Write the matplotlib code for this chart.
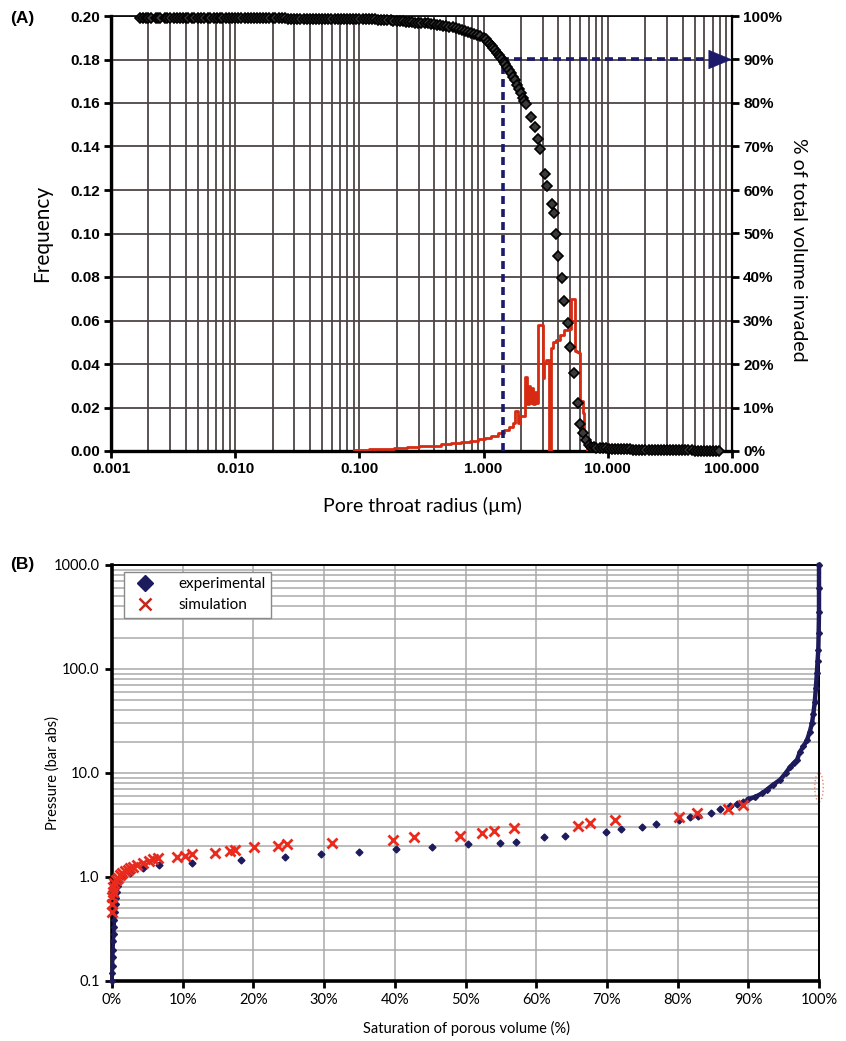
"""Pore throat size distribution (A) and capillary pressure curve (B)."""

import matplotlib
matplotlib.use("Agg")
import matplotlib.pyplot as plt
from matplotlib.lines import Line2D
from matplotlib.patches import Ellipse
from matplotlib.ticker import FixedLocator, FuncFormatter, LogLocator, NullFormatter

# ---------------- panel A data ----------------
# frequency histogram (left axis), drawn as steps
freq_r = [0.09, 0.12, 0.15, 0.19, 0.24, 0.30, 0.37, 0.45, 0.55, 0.66, 0.78, 0.90,
          1.02, 1.15, 1.30, 1.45, 1.60, 1.74, 1.80, 1.88, 1.95, 2.14, 2.25, 2.30,
          2.38, 2.44, 2.52, 2.60, 2.66, 2.75, 3.02, 3.08, 3.18, 3.36, 3.46, 3.62,
          3.85, 4.10, 4.45, 4.75, 5.08, 5.45, 5.60, 5.85, 6.00, 6.28, 6.45, 6.75]
freq_v = [0.0004, 0.0008, 0.0011, 0.0014, 0.0017, 0.0021, 0.0025, 0.0030, 0.0035, 0.0042,
          0.0048, 0.0055, 0.0062, 0.0071, 0.0082, 0.0095, 0.0110, 0.0130, 0.0185, 0.0130,
          0.0160, 0.0340, 0.0215, 0.0300, 0.0220, 0.0290, 0.0215, 0.0270, 0.0220, 0.0580,
          0.0335, 0.0405, 0.0420, 0.0000, 0.0475, 0.0500, 0.0510, 0.0535, 0.0555, 0.0560,
          0.0700, 0.0460, 0.0455, 0.0450, 0.0230, 0.0175, 0.0050, 0.0000]

# cumulative volume invaded (right axis), one decade of the plateau per list
plat1_r = [0.0017, 0.0018, 0.0019, 0.0020, 0.0021, 0.0023, 0.0024, 0.0025, 0.0027, 0.0028,
           0.0030, 0.0032, 0.0034, 0.0036, 0.0038, 0.0040, 0.0042, 0.0045, 0.0047, 0.0050,
           0.0053, 0.0056, 0.0060, 0.0063, 0.0067, 0.0071, 0.0075, 0.0079, 0.0084, 0.0089,
           0.0094]
plat1_pct = [99.6, 99.6, 99.6, 99.6, 99.6, 99.6, 99.6, 99.6, 99.6, 99.6,
             99.6, 99.6, 99.6, 99.6, 99.6, 99.6, 99.6, 99.6, 99.6, 99.6,
             99.6, 99.6, 99.6, 99.6, 99.6, 99.6, 99.6, 99.6, 99.6, 99.6,
             99.6]
plat2_r = [0.0100, 0.0106, 0.0112, 0.0119, 0.0126, 0.0133, 0.0141, 0.0150, 0.0158, 0.0168,
           0.0178, 0.0188, 0.0200, 0.0211, 0.0224, 0.0237, 0.0251, 0.0266, 0.0282, 0.0299,
           0.0316, 0.0335, 0.0355, 0.0376, 0.0398, 0.0422, 0.0447, 0.0473, 0.0501, 0.0531,
           0.0562, 0.0596, 0.0631, 0.0668, 0.0708, 0.0750, 0.0794, 0.0841, 0.0891, 0.0944]
plat2_pct = [99.6, 99.6, 99.6, 99.6, 99.6, 99.6, 99.6, 99.5, 99.5, 99.5,
             99.5, 99.5, 99.5, 99.5, 99.5, 99.5, 99.5, 99.4, 99.4, 99.4,
             99.4, 99.4, 99.4, 99.4, 99.4, 99.4, 99.4, 99.4, 99.4, 99.4,
             99.3, 99.3, 99.3, 99.3, 99.3, 99.3, 99.3, 99.3, 99.3, 99.3]
plat3_r = [0.100, 0.106, 0.112, 0.119, 0.126, 0.133, 0.141, 0.150, 0.158, 0.168,
           0.178, 0.188, 0.200, 0.211, 0.224, 0.237, 0.251, 0.266, 0.282, 0.299,
           0.316, 0.335, 0.355, 0.376, 0.398, 0.422, 0.447, 0.473, 0.501, 0.531,
           0.562, 0.596, 0.631, 0.668, 0.708, 0.750, 0.794, 0.841, 0.891, 0.944]
plat3_pct = [99.3, 99.3, 99.3, 99.2, 99.2, 99.2, 99.1, 99.1, 99.1, 99.0,
             99.0, 98.9, 98.9, 98.8, 98.8, 98.7, 98.7, 98.6, 98.5, 98.5,
             98.4, 98.3, 98.3, 98.2, 98.1, 98.0, 97.9, 97.8, 97.7, 97.5,
             97.4, 97.2, 97.0, 96.8, 96.6, 96.4, 96.2, 95.9, 95.6, 95.3]
drop_r = [1.00, 1.04, 1.08, 1.12, 1.16, 1.20, 1.24, 1.28, 1.32, 1.36,
          1.40, 1.45, 1.50, 1.55, 1.60, 1.66, 1.72, 1.78, 1.85, 1.92,
          1.99, 2.06, 2.13, 2.20,
          2.39, 2.58, 2.73, 2.83, 3.11, 3.22, 3.53, 3.67, 3.81, 3.96,
          4.26, 4.42, 4.75, 4.94, 5.32, 5.73, 5.95, 6.29, 6.65, 7.03]
drop_pct = [95.0, 94.6, 94.1, 93.6, 93.1, 92.6, 92.1, 91.6, 91.1, 90.6,
            90.1, 89.5, 88.9, 88.2, 87.5, 86.8, 86.0, 85.2, 84.2, 83.2,
            82.2, 81.2, 80.4, 79.7,
            76.8, 74.5, 71.7, 69.4, 63.7, 60.9, 56.8, 54.7, 49.9, 44.8,
            39.8, 34.5, 29.4, 23.9, 17.9, 11.0, 6.2, 4.1, 2.5, 1.4]
tail_r = [7.3, 7.7, 8.1, 8.6, 9.1, 9.6, 10.2, 10.8, 11.4, 12.1,
          12.8, 13.5, 14.3, 15.1, 16.0, 16.9, 17.9, 19.0, 20.1, 21.3,
          22.5, 23.8, 25.2, 26.7, 28.3, 29.9, 31.7, 33.5, 35.5, 37.6,
          39.8, 42.1, 44.6, 47.2, 50.0, 52.9, 56.0, 59.3, 62.8, 66.5,
          70.4, 74.5, 78.9]
tail_pct = [1.0, 0.9, 0.8, 0.7, 0.6, 0.6, 0.5, 0.5, 0.5, 0.4,
            0.4, 0.4, 0.4, 0.4, 0.3, 0.3, 0.3, 0.3, 0.3, 0.3,
            0.3, 0.3, 0.3, 0.2, 0.2, 0.2, 0.2, 0.2, 0.2, 0.2,
            0.2, 0.2, 0.2, 0.2, 0.1, 0.1, 0.1, 0.1, 0.1, 0.1,
            0.1, 0.1, 0.1]

cutoff_r = 1.42      # radius at 90 % invaded
cutoff_pct = 90
arrow_start_r = 67

x_ticks_a = [0.001, 0.01, 0.1, 1, 10, 100]

# ---------------- panel B data ----------------
exp_low_sat = [0.0, 0.05, 0.1, 0.1, 0.15, 0.2, 0.25, 0.3, 0.35, 0.4, 0.5, 0.6, 0.7, 0.8, 1.0]
exp_low_p = [0.10, 0.12, 0.14, 0.17, 0.20, 0.24, 0.28, 0.33, 0.39, 0.46, 0.55, 0.63, 0.72, 0.82, 0.92]
exp_mid_sat = [1.5, 2.5, 4.4, 6.7, 11.3, 18.3, 24.5, 29.6, 35.0, 40.2,
               45.3, 50.3, 54.9, 57.2, 61.1, 64.1, 69.9, 72.0, 75.0, 76.9,
               80.2, 81.8, 82.9, 84.7, 86.0, 87.4, 88.4, 89.3]
exp_mid_p = [1.02, 1.10, 1.22, 1.29, 1.37, 1.45, 1.56, 1.66, 1.74, 1.86,
             1.95, 2.07, 2.11, 2.19, 2.43, 2.46, 2.73, 2.89, 3.03, 3.21,
             3.53, 3.77, 3.86, 4.14, 4.50, 4.80, 5.02, 5.27]
exp_high_sat = [90.0, 91.0, 92.0, 92.6, 93.5, 94.5, 95.3, 95.9, 96.5, 96.9,
                97.3, 97.8, 98.3, 98.7, 99.0, 99.2, 99.4, 99.55, 99.7, 99.8,
                99.9, 99.95, 100.0, 100.0, 100.0]
exp_high_p = [5.6, 5.9, 6.4, 6.9, 7.7, 8.6, 10.0, 11.4, 12.6, 13.4,
              16.0, 18.0, 20.7, 25.0, 30.0, 37.0, 48.0, 65.0, 91.0, 120.0,
              152.0, 220.0, 350.0, 600.0, 1000.0]

sim_sat = [0.0, 0.0, 0.0, 0.1, 0.2, 0.3, 0.5, 0.8, 1.1, 1.4,
           1.8, 2.2, 2.5, 3.0, 3.5, 4.4, 5.2, 5.8, 6.5, 9.2,
           10.3, 11.3, 14.6, 16.7, 17.4, 20.1, 23.5, 24.8, 31.1, 39.8,
           42.7, 49.2, 52.3, 54.0, 56.8, 65.9, 67.6, 71.1, 80.2, 82.7,
           87.1, 89.3]
sim_p = [0.46, 0.55, 0.64, 0.72, 0.80, 0.87, 0.93, 0.98, 1.04, 1.09,
         1.13, 1.17, 1.21, 1.25, 1.30, 1.36, 1.43, 1.49, 1.52, 1.56,
         1.59, 1.66, 1.70, 1.78, 1.82, 1.93, 1.98, 2.07, 2.11, 2.28,
         2.40, 2.47, 2.66, 2.76, 2.96, 3.12, 3.30, 3.52, 3.78, 4.11,
         4.50, 4.95]

p_ticks = [0.1, 1, 10, 100, 1000]
sat_ticks = [0, 10, 20, 30, 40, 50, 60, 70, 80, 90, 100]

# ---------------- style ----------------
RED = "#d62a12"
NAVY = "#1c1a6b"
EXP_NAVY = "#1d1b5c"
SIM_RED = "#ea2a1c"
GRID_A = "#4e4444"
GRID_B = "#a9a9a9"
BOLD_FONT = ["Liberation Sans", "DejaVu Sans"]
TEXT_FONT = ["Lato", "DejaVu Sans"]

fig = plt.figure(figsize=(8.46, 10.41), dpi=100)

# ================= panel A =================
ax = fig.add_axes([111 / 846, 1 - 451 / 1041, 621 / 846, 435 / 1041])
ax2 = ax.twinx()

ax.set_xscale("log")
ax.set_xlim(0.001, 100)
ax.set_ylim(0, 0.20)
ax2.set_ylim(0, 100)

ax.xaxis.set_major_locator(FixedLocator(x_ticks_a))
ax.xaxis.set_minor_locator(LogLocator(base=10, subs=range(2, 10), numticks=20))
ax.xaxis.set_minor_formatter(NullFormatter())
ax.xaxis.set_major_formatter(FuncFormatter(lambda v, p: f"{v:.3f}"))
ax.set_yticks([i * 0.02 for i in range(11)])
ax.yaxis.set_major_formatter(FuncFormatter(lambda v, p: f"{v:.2f}"))
ax2.set_yticks(range(0, 101, 10))
ax2.yaxis.set_major_formatter(FuncFormatter(lambda v, p: f"{v:.0f}%"))

ax.grid(True, which="both", axis="x", color=GRID_A, lw=1.3)
ax.grid(True, which="major", axis="y", color=GRID_A, lw=1.3)
ax.set_axisbelow(True)

ax.tick_params(axis="both", which="major", direction="out", length=5, width=2,
               labelsize=11, pad=3)
ax.tick_params(axis="x", which="minor", length=0)
ax2.tick_params(axis="y", direction="out", length=5, width=2, labelsize=11, pad=3)
for lab in ax.get_xticklabels() + ax.get_yticklabels() + ax2.get_yticklabels():
    lab.set_fontfamily(BOLD_FONT)
    lab.set_fontweight("bold")

for sp in ax.spines.values():
    sp.set_color("black")
ax.spines["left"].set_linewidth(2.4)
ax.spines["bottom"].set_linewidth(2.4)
ax.spines["top"].set_linewidth(1.2)
ax2.spines["right"].set_linewidth(1.6)
ax2.spines["left"].set_visible(False)
ax2.spines["top"].set_visible(False)
ax2.spines["bottom"].set_visible(False)

ax.axvline(0.00102, color="#e8805a", lw=1.0, zorder=1)
ax.plot(freq_r, freq_v, drawstyle="steps-post", color=RED, lw=2.0, zorder=3)

ax2.plot([cutoff_r, cutoff_r, arrow_start_r], [0, cutoff_pct, cutoff_pct],
         color=NAVY, lw=2.6, linestyle=(0, (2.2, 1.4)), zorder=3)
ax2.annotate("", xy=(100, cutoff_pct), xytext=(arrow_start_r, cutoff_pct),
             arrowprops=dict(arrowstyle="-|>,head_length=0.8,head_width=0.33",
                             mutation_scale=20, color=NAVY, lw=0.5,
                             shrinkA=0, shrinkB=0), zorder=4)

cum_sets = [(plat1_r, plat1_pct), (plat2_r, plat2_pct), (plat3_r, plat3_pct),
            (drop_r, drop_pct), (tail_r, tail_pct)]
for rr, pp in cum_sets:
    ax2.plot(rr, pp, linestyle="none", marker="D", markersize=5.5,
             markerfacecolor="#3a3a3a", markeredgecolor="black", markeredgewidth=1.2,
             clip_on=False, zorder=5)

ax.set_ylabel("Frequency", fontsize=15, family=TEXT_FONT)
ax.yaxis.set_label_coords(-0.095, 0.5)
ax.set_xlabel("Pore throat radius (µm)", fontsize=14, family=TEXT_FONT)
ax.xaxis.set_label_coords(0.502, -0.106)
ax2.set_ylabel("% of total volume invaded", fontsize=14, family=TEXT_FONT,
               rotation=-90, va="bottom")
ax2.yaxis.set_label_coords(1.093, 0.462)

fig.text(0.012, 1 - 18 / 1041, "(A)", fontsize=12.5, fontweight="bold",
         family=BOLD_FONT, va="center")

# ================= panel B =================
bx = fig.add_axes([112 / 846, 1 - 981 / 1041, 707 / 846, 416 / 1041])
bx.set_yscale("log")
bx.set_ylim(0.1, 1000)
bx.set_xlim(0, 100)
bx.yaxis.set_major_locator(FixedLocator(p_ticks))
bx.yaxis.set_minor_locator(LogLocator(base=10, subs=range(2, 10), numticks=20))
bx.yaxis.set_minor_formatter(NullFormatter())
bx.yaxis.set_major_formatter(FuncFormatter(lambda v, p: f"{v:.1f}"))
bx.set_xticks(sat_ticks)
bx.xaxis.set_major_formatter(FuncFormatter(lambda v, p: f"{v:.0f}%"))

bx.grid(True, which="both", axis="y", color=GRID_B, lw=1.1)
bx.grid(True, which="major", axis="x", color=GRID_B, lw=1.1)
bx.set_axisbelow(True)
bx.tick_params(axis="both", which="major", direction="out", length=5, width=2,
               labelsize=10.5, pad=4)
bx.tick_params(axis="y", which="minor", length=0)
for lab in bx.get_xticklabels() + bx.get_yticklabels():
    lab.set_fontfamily(TEXT_FONT)

bx.spines["left"].set_linewidth(2.6)
bx.spines["bottom"].set_linewidth(2.6)
bx.spines["top"].set_linewidth(1.4)
bx.spines["right"].set_linewidth(1.4)

bx.plot(exp_low_sat, exp_low_p, color=EXP_NAVY, lw=2.5, marker="D", markersize=3,
        clip_on=False, zorder=3)
bx.plot(exp_mid_sat, exp_mid_p, linestyle="none", color=EXP_NAVY, marker="D",
        markersize=3.5, zorder=3)
bx.plot(exp_high_sat, exp_high_p, color=EXP_NAVY, lw=3.2, marker="D", markersize=3,
        clip_on=False, zorder=3)
bx.plot(sim_sat, sim_p, linestyle="none", marker="x", markersize=7,
        markeredgewidth=2, color=SIM_RED, clip_on=False, zorder=4)

bx.add_patch(Ellipse((1.0, 0.466), 0.012, 0.07, transform=bx.transAxes,
                     fill=False, edgecolor="#e88a70", linestyle=":", lw=1.0,
                     clip_on=False))

handles = [
    Line2D([], [], linestyle="none", marker="D", markersize=8, color=EXP_NAVY),
    Line2D([], [], linestyle="none", marker="x", markersize=8, markeredgewidth=1.8,
           color="#c4281c"),
]
leg = bx.legend(handles, ["experimental", "simulation"], loc="upper left",
                bbox_to_anchor=(0.017, 0.983), borderaxespad=0, frameon=True,
                fancybox=False, framealpha=1, edgecolor="#8a8a8a",
                prop={"family": TEXT_FONT, "size": 11}, handletextpad=1.2,
                labelspacing=0.45, borderpad=0.35)
leg.get_frame().set_linewidth(1.0)

bx.set_ylabel("Pressure (bar abs)", fontsize=10.5, family=TEXT_FONT)
bx.yaxis.set_label_coords(-0.074, 0.5)
bx.set_xlabel("Saturation of porous volume (%)", fontsize=10.5, family=TEXT_FONT)
bx.xaxis.set_label_coords(0.502, -0.096)

fig.text(0.012, 1 - 565 / 1041, "(B)", fontsize=12.5, fontweight="bold",
         family=BOLD_FONT, va="center")

fig.savefig("out.png", dpi=100)
plt.close(fig)
